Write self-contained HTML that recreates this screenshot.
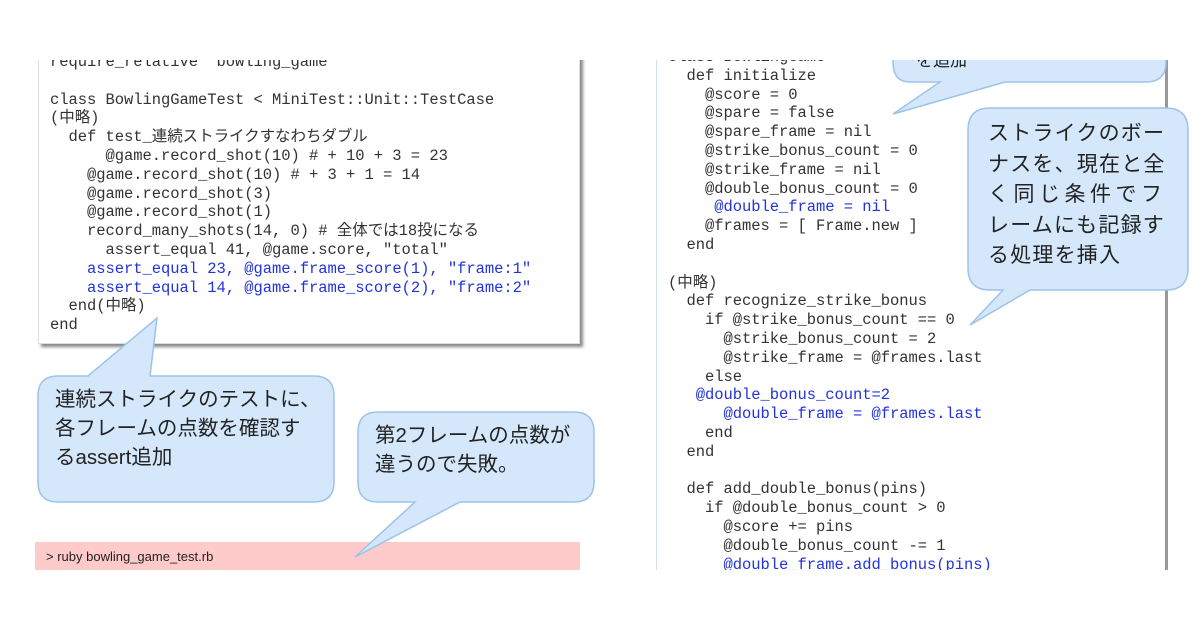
<!DOCTYPE html>
<html><head><meta charset="utf-8"><style>
body{margin:0;width:1200px;height:630px;background:#fff;overflow:hidden;position:relative;font-family:"Liberation Sans","Noto Sans CJK JP",sans-serif}
.clip{position:absolute;left:0;top:60px;width:1200px;height:510px;overflow:hidden}
pre{margin:0;position:absolute;font-family:"Liberation Mono","Noto Sans CJK JP",monospace;font-size:15.5px;line-height:18.8px;color:#333;letter-spacing:-0.05px}
.b{color:#2233dd}
.bub{position:absolute;font-size:20.5px;line-height:29px;color:#222}
</style></head><body>
<div class="clip">
<div style="position:absolute;left:38px;top:-10px;width:540px;height:292px;background:#fff;border:1px solid #ddd;box-shadow:3px 3px 3px #888"></div>
<pre style="left:50px;top:-7px">require_relative 'bowling_game'

class BowlingGameTest &lt; MiniTest::Unit::TestCase
(中略)
  def test_連続ストライクすなわちダブル
      @game.record_shot(10) # + 10 + 3 = 23
    @game.record_shot(10) # + 3 + 1 = 14
    @game.record_shot(3)
    @game.record_shot(1)
    record_many_shots(14, 0) # 全体では18投になる
      assert_equal 41, @game.score, "total"
    <span class="b">assert_equal 23, @game.frame_score(1), "frame:1"</span>
    <span class="b">assert_equal 14, @game.frame_score(2), "frame:2"</span>
  end(中略)
end</pre>
<div style="position:absolute;left:656px;top:-10px;width:1px;height:520px;background:#cfe0f0"></div>
<div style="position:absolute;left:1165px;top:-10px;width:3px;height:520px;background:#999"></div>
<pre style="left:668px;top:-12px">class BowlingGame
  def initialize
    @score = 0
    @spare = false
    @spare_frame = nil
    @strike_bonus_count = 0
    @strike_frame = nil
    @double_bonus_count = 0
     <span class="b">@double_frame = nil</span>
    @frames = [ Frame.new ]
  end

(中略)
  def recognize_strike_bonus
    if @strike_bonus_count == 0
      @strike_bonus_count = 2
      @strike_frame = @frames.last
    else
   <span class="b">@double_bonus_count=2</span>
      <span class="b">@double_frame = @frames.last</span>
    end
  end

  def add_double_bonus(pins)
    if @double_bonus_count &gt; 0
      @score += pins
      @double_bonus_count -= 1
      <span class="b">@double_frame.add_bonus(pins)</span></pre>
<div style="position:absolute;left:35px;top:482px;width:545px;height:40px;background:#ffcaca"></div>
<div style="position:absolute;left:46px;top:489px;font-size:13px;color:#222">&gt; ruby bowling_game_test.rb</div>
<svg width="1200" height="510" style="position:absolute;left:0;top:0" viewBox="0 60 1200 510">
<g fill="#d5e8fb" stroke="#9cc3ea" stroke-width="1.5">
<path d="M60 376 L88 376 L157 318 L150 376 L314 376 Q334 376 334 396 L334 482 Q334 502 314 502 L58 502 Q38 502 38 482 L38 396 Q38 376 58 376 Z"/>
<path d="M378 412 L574 412 Q594 412 594 432 L594 482 Q594 502 574 502 L460 502 L355 557 L415 502 L378 502 Q358 502 358 482 L358 432 Q358 412 378 412 Z"/>
<path d="M910 20 L1146 20 Q1166 20 1166 40 L1166 62 Q1166 82 1146 82 L1005 82 L893 114 L940 82 L910 82 Q893 82 893 62 L893 40 Q893 20 910 20 Z"/>
<path d="M990 108 L1166 108 Q1188 108 1188 130 L1188 268 Q1188 290 1166 290 L1030 290 L970 325 L1003 290 L990 290 Q968 290 968 268 L968 130 Q968 108 990 108 Z"/>
</g></svg>
<div class="bub" style="left:916px;top:-14px;font-size:17px">を追加</div>
<div class="bub" style="left:55px;top:325px">連続ストライクのテストに、<br>各フレームの点数を確認す<br>るassert追加</div>
<div class="bub" style="left:375px;top:361px">第2フレームの点数が<br>違うので失敗。</div>
<div class="bub" style="left:988px;top:59px;font-size:21px;line-height:30.5px;letter-spacing:1.2px">ストライクのボー<br>ナスを、現在と全<br><span style="letter-spacing:4.5px">く同じ条件でフ</span><br>レームにも記録す<br>る処理を挿入</div>
</div>
</body></html>
